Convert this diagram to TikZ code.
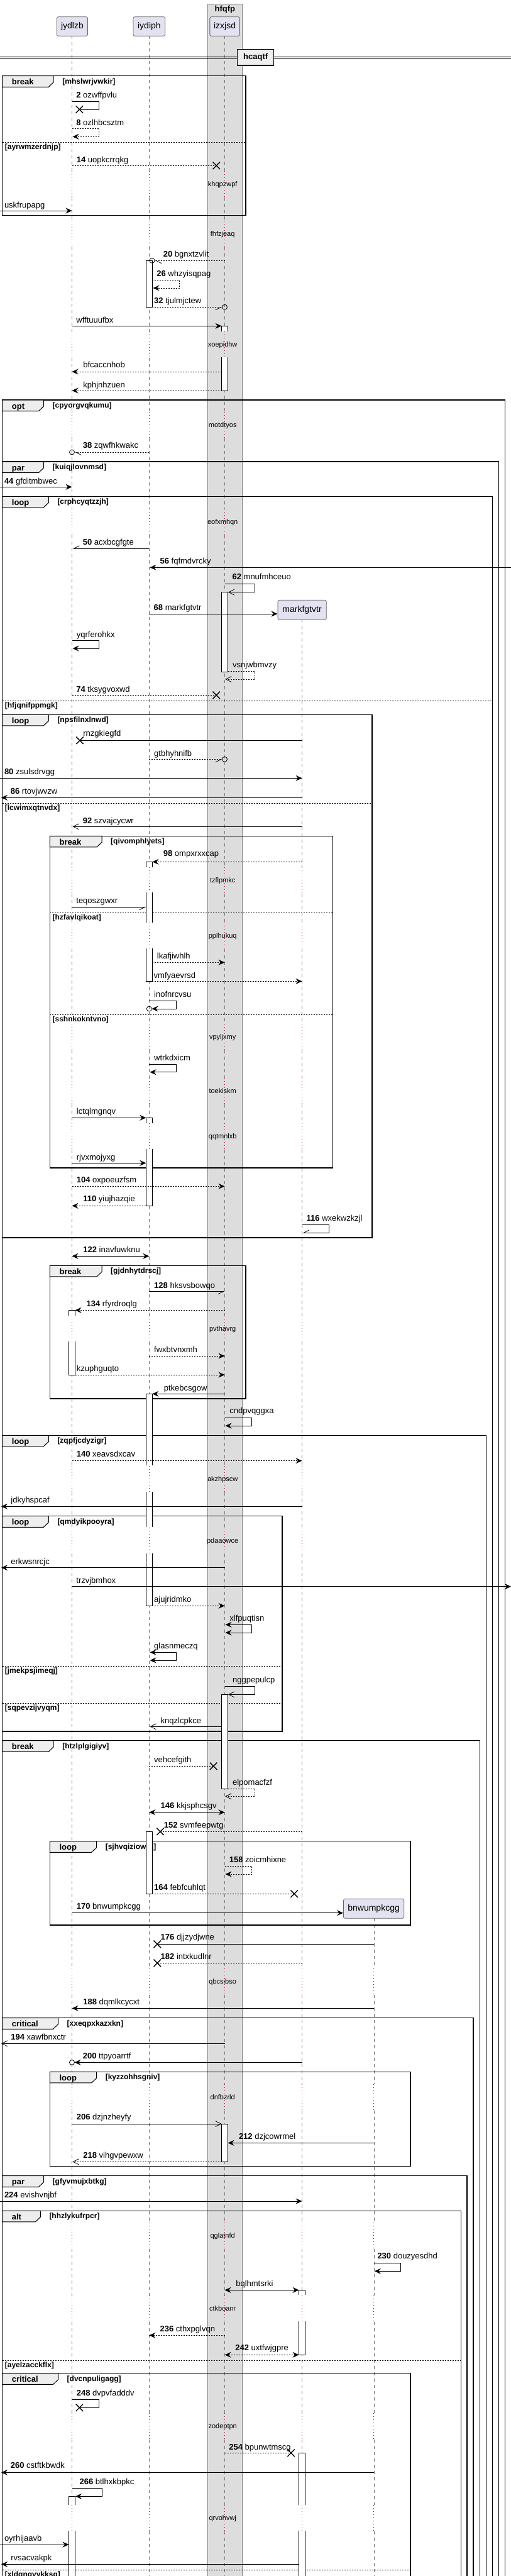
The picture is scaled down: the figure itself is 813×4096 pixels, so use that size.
\documentclass[tikz,border=0pt]{standalone}
\usepackage{fontspec}
\setmainfont{Liberation Sans}
\usetikzlibrary{arrows.meta,shapes.misc}

\definecolor{partfill}{HTML}{E2E2F0}
\definecolor{boxfill}{HTML}{DDDDDD}
\definecolor{tabfill}{HTML}{EEEEEE}
\definecolor{delayred}{HTML}{A80036}

% lifeline x positions
\def\xjy{114.5}
\def\xiy{237.3}
\def\xiz{357.5}
\def\xma{480.5}
\def\xbn{594.8}

\newcommand\msgline[5]{\coordinate (#1a) at (#3,#5);\coordinate (#1b) at (#4,#5);\draw[#2] (#1a) -- (#1b);}
\newcommand\msgself[7]{\coordinate (#1a) at (#3,#5);\coordinate (#1b) at (#7,#6);\draw[#2] (#1a) -- ++(#4,0) |- (#1b);}
\newcommand\msgtext[4]{\node[mtxt] (#1t) at (#2,#3) {#4};}
\newcommand\lostx[3]{\node[xmk] (#1) at (#2,#3) {};}
\newcommand\hollowdot[3]{\node[omk] (#1) at (#2,#3) {};}
\newcommand\seqframe[8]{%
  \draw[frm] (#2,#3) rectangle (#4,#5);
  \draw[frmtab] (#2,#3) -- (#6,#3) -- (#6,{#3+10}) -- ({#6-8},{#3+17.6}) -- (#2,{#3+17.6}) -- cycle;
  \node[flbl] (#1l) at ({#2+15},{#3+14.2}) {#7};
  \node[fgrd] (#1g) at ({#6+14},{#3+12.5}) {[#8]};}
\newcommand\seqelse[5]{\draw[frmsep] (#2,#4) -- (#3,#4);\node[fgrd] (#1) at ({#2+4},{#4+11}) {[#5]};}
\newcommand\actbar[3]{\draw[act] ({#1-5},#2) rectangle ({#1+5},#3);}
\newcommand\acttop[3]{\fill[white] ({#1-5},#2) rectangle ({#1+5},#3);\draw[actl] ({#1-5},#3) -- ({#1-5},#2) -- ({#1+5},#2) -- ({#1+5},#3);}
\newcommand\actmid[3]{\fill[white] ({#1-5},#2) rectangle ({#1+5},#3);\draw[actl] ({#1-5},#2) -- ({#1-5},#3) ({#1+5},#2) -- ({#1+5},#3);}
\newcommand\actbot[3]{\fill[white] ({#1-5},#2) rectangle ({#1+5},#3);\draw[actl] ({#1-5},#2) -- ({#1-5},#3) -- ({#1+5},#3) -- ({#1+5},#2);}

\def\segsA{57.3/272.3, 314.3/351.3, 393.3/527.3, 569.3/655, 697/809, 851/1379}
\def\segsC{1421/1467.3, 1509.3/1628.3, 1670.3/1714, 1756/1786.3, 1828.3/2092.3, 2134.3/2331.3, 2373.3/2429.3, 2471.3/3130}
\def\segsD{3172/3314, 3356/3534.3, 3576.3/3650, 3692/3837.3, 3879.3/3983.3, 4025.3/4110}
\def\zonesA{272.3/314.3, 351.3/393.3, 527.3/569.3, 655/697, 809/851}
\def\zonesC{1379/1421, 1467.3/1509.3, 1628.3/1670.3, 1714/1756, 1786.3/1828.3, 2092.3/2134.3, 2331.3/2373.3, 2429.3/2471.3}
\def\zonesD{3130/3172, 3314/3356, 3534.3/3576.3, 3650/3692, 3837.3/3879.3, 3983.3/4025.3}

\begin{document}
\begin{tikzpicture}[x=1pt, y=-1pt,
  life/.style={black!55, line width=0.6pt, dash pattern=on 5pt off 5pt},
  lifedly/.style={delayred, line width=0.8pt, dash pattern=on 1pt off 4pt},
  part/.style={draw=black!60, fill=partfill, rounded corners=2.5pt, line width=0.8pt, minimum height=30.6pt, inner sep=0pt, font=\fontsize{14}{16}\selectfont},
  msg/.style={line width=0.8pt},
  dsh/.style={line width=0.8pt, dash pattern=on 2pt off 2pt},
  fil/.style={-{Stealth[length=10pt,width=9pt,inset=3.5pt]}},
  bifil/.style={{Stealth[length=10pt,width=9pt,inset=3.5pt]}-{Stealth[length=10pt,width=9pt,inset=3.5pt]}},
  opn/.style={-{Straight Barb[length=9pt,width=9pt]}},
  hrp/.style={-{Straight Barb[length=9pt,width=9pt,harpoon]}},
  hrps/.style={-{Straight Barb[length=9pt,width=9pt,harpoon,swap]}},
  mtxt/.style={anchor=base west, inner sep=0pt, font=\fontsize{13}{15}\selectfont, yshift=-3.5pt},
  delay/.style={anchor=base, inner sep=0pt, font=\fontsize{11}{13}\selectfont, yshift=-3.5pt},
  xmk/.style={cross out, draw, line width=1.4pt, minimum size=10pt, inner sep=0pt},
  omk/.style={circle, draw, line width=0.8pt, minimum size=8pt, inner sep=0pt},
  frm/.style={line width=1.5pt},
  frmtab/.style={fill=tabfill, line width=1pt},
  frmsep/.style={line width=0.8pt, dash pattern=on 2pt off 2pt},
  flbl/.style={anchor=base west, inner sep=0pt, font=\bfseries\fontsize{13}{15}\selectfont},
  fgrd/.style={anchor=base west, inner sep=0pt, font=\bfseries\fontsize{12}{14}\selectfont},
  act/.style={fill=white, draw, line width=0.8pt},
  actl/.style={line width=0.8pt}]
\useasboundingbox[fill=white] (0,0) rectangle (813,4096);

% box and participants
\draw[fill=boxfill, draw=black!50, line width=0.6pt] (330.2,6) rectangle (385.6,4110);
\node[anchor=base, inner sep=0pt, font=\bfseries\fontsize{13}{15}\selectfont] (bx) at (357.9,18.5) {hfqfp};
\node[part, minimum width=49pt] (p1) at (114.9,42) {jydlzb};
\node[part, minimum width=50.8pt] (p2) at (237.4,42) {iydiph};
\node[part, minimum width=47.5pt] (p3) at (357.6,42) {izxjsd};

% lifelines
\foreach \a/\b in \segsA {\foreach \x in {\xjy,\xiy,\xiz} \draw[life] (\x,\a) -- (\x,\b);}
\foreach \a/\b in \segsC {\foreach \x in {\xjy,\xiy,\xiz,\xma} \draw[life] (\x,\a) -- (\x,\b);}
\foreach \a/\b in \segsD {\foreach \x in {\xjy,\xiy,\xiz,\xma,\xbn} \draw[life] (\x,\a) -- (\x,\b);}
\draw[life] (\xma,985.3) -- (\xma,1379);
\draw[life] (\xbn,3050.3) -- (\xbn,3130);
\foreach \a/\b in \zonesA {\foreach \x in {\xjy,\xiy,\xiz} \draw[lifedly] (\x,\a) -- (\x,\b);}
\foreach \a/\b in \zonesC {\foreach \x in {\xjy,\xiy,\xiz,\xma} \draw[lifedly] (\x,\a) -- (\x,\b);}
\foreach \a/\b in \zonesD {\foreach \x in {\xjy,\xiy,\xiz,\xma,\xbn} \draw[lifedly] (\x,\a) -- (\x,\b);}
\node[part, minimum width=77.3pt, minimum height=31pt] (p4) at (480.6,969.8) {markfgtvtr};
\node[part, minimum width=96.2pt, minimum height=31pt] (p5) at (594.6,3034.8) {bnwumpkcgg};

% divider
\draw[line width=0.9pt] (0,90) -- (813,90) (0,93.3) -- (813,93.3);
\node[draw, line width=1.5pt, fill=tabfill, minimum width=58pt, minimum height=25.7pt, inner sep=0pt, font=\bfseries\fontsize{13}{15}\selectfont] (dv) at (406.7,91.2) {hcaqtf};

% delays
\foreach \c/\t [count=\i] in {293.3/khqpzwpf, 372.3/fhfzjeaq, 548.3/xoepidhw, 676/motdtyos, 830/eofxmhqn, 1400/tzflpmkc, 1488.3/pplhukuq, 1649.3/vpyljxmy, 1735/toekiskm, 1807.3/qqtmnlxb, 2113.3/pvthavrg, 2352.3/akzhpscw, 2450.3/pdaaowce, 3151/qbcsibso, 3335/dnfbzrld, 3555.3/qglatnfd, 3671/ctkboanr, 3858.3/zodeptpn, 4004.3/qrvohvwj}
  \node[delay] (d\i) at (354.2,\c) {\t};

% frames
\seqframe{fa}{3.7}{120.7}{390.8}{342.7}{85.2}{break}{mhslwrjvwkir}
\seqelse{fa1}{3.7}{390.8}{226.3}{ayrwmzerdnjp}
\seqframe{fb}{3.7}{636}{803.6}{4110}{69.5}{opt}{cpyorgvqkumu}
\seqframe{fc}{3.7}{734}{793.6}{4110}{69.5}{par}{kuiqjlovnmsd}
\seqframe{fd}{3.7}{789.3}{783.7}{4110}{77.3}{loop}{crphcyqtzzjh}
\seqelse{fd1}{3.7}{783.7}{1114.3}{hfjqnifppmgk}
\seqframe{fe}{3.7}{1136.3}{592}{1968}{77.3}{loop}{npsfilnxlnwd}
\seqelse{fe1}{3.7}{592}{1277.3}{lcwimxqtnvdx}
\seqframe{ff}{79.4}{1329.3}{529.3}{1857}{162}{break}{qivomphlyets}
\seqelse{ff1}{79.4}{529.3}{1451}{hzfavlqikoat}
\seqelse{ff2}{79.4}{529.3}{1613.3}{sshnkokntvno}
\seqframe{fg}{79.4}{2012.3}{390.8}{2224}{162}{break}{gjdnhytdrscj}
\seqframe{fh}{3.7}{2282.3}{773.3}{4110}{77.3}{loop}{zqpfjcdyzigr}
\seqframe{fi}{3.7}{2410.7}{448.8}{2753}{77.3}{loop}{qmdyikpooyra}
\seqelse{fi1}{3.7}{448.8}{2649.3}{jmekpsjimeqj}
\seqelse{fi2}{3.7}{448.8}{2708.3}{sqpevzijvyqm}
\seqframe{fj}{3.7}{2767.7}{763.3}{4110}{85.2}{break}{htzlplgigiyv}
\seqframe{fk}{79.4}{2927.7}{653.1}{3061}{153.6}{loop}{sjhvqiziowrq}
\seqframe{fl}{3.7}{3208.7}{752.9}{4110}{92.5}{critical}{xxeqpxkazxkn}
\seqframe{fm}{79.4}{3294.3}{653.1}{3444.7}{153.6}{loop}{kyzzohhsgniv}
\seqframe{fn}{3.7}{3459.7}{743}{4110}{69.5}{par}{gfyvmujxbtkg}
\seqframe{fo}{3.7}{3515.3}{733.6}{4110}{64.3}{alt}{hhzlykufrpcr}
\seqelse{fo1}{3.7}{733.6}{3753.3}{ayelzacckflx}
\seqframe{fp}{3.7}{3773.7}{653.1}{4110}{92.5}{critical}{dvcnpuligagg}
\seqelse{fp1}{3.7}{653.1}{4086.3}{xldqngyykksq}

% activations
\actbar{\xiy}{414.3}{488.3}
\acttop{\xiz}{518.3}{526.7} \actbot{\xiz}{568.3}{621}
\actbar{\xiz}{941.7}{1068.3}
\acttop{\xiy}{1370.3}{1379} \actmid{\xiy}{1419.3}{1466.7} \actbot{\xiy}{1508}{1560.3}
\acttop{\xiy}{1777.3}{1785.7} \actbot{\xiy}{1827}{1917.3}
\acttop{\xjy}{2083.3}{2091.7} \actbot{\xjy}{2133.3}{2186}
\acttop{\xiy}{2216.3}{2330} \actmid{\xiy}{2372.3}{2428.3} \actbot{\xiy}{2470}{2553.3}
\actbar{\xiz}{2694.3}{2844}
\actbar{\xiy}{2912.3}{3011.3}
\actbar{\xiz}{3377}{3437.3}
\acttop{\xma}{3641.3}{3649.3} \actbot{\xma}{3691}{3744.3}
\acttop{\xma}{3900.3}{3982.7} \actmid{\xma}{4024}{4110}
\acttop{\xjy}{3969.3}{3982.7} \actmid{\xjy}{4024}{4110}

% messages
\msgtext{m2}{121.2}{151.7}{\textbf{2} ozwffpvlu}
\msgself{m2}{msg}{\xjy}{43.3}{161.7}{174}{126.4}
\lostx{m2x}{126.4}{174}
\msgtext{m8}{121.2}{195.7}{\textbf{8} ozlhbcsztm}
\msgself{m8}{dsh,fil}{\xjy}{43.3}{204.3}{217.3}{115.5}
\msgtext{m14}{121.7}{255}{\textbf{14} uopkcrrqkg}
\msgline{m14}{dsh}{\xjy}{344.3}{263.3}
\lostx{m14x}{344.3}{263.3}
\msgtext{m15}{6.8}{326.7}{uskfrupapg}
\msgline{m15}{msg,fil}{0}{\xjy}{335}
\msgtext{m20}{259.7}{405}{\textbf{20} bgnxtzvlit}
\msgline{m20}{dsh,hrp}{\xiz}{246.5}{414.3}
\hollowdot{m20o}{242}{414.3}
\msgtext{m26}{249.2}{435.7}{\textbf{26} whzyisqpag}
\msgself{m26}{dsh,fil}{242.3}{43.5}{445.3}{458}{243.5}
\msgtext{m32}{245}{479.3}{\textbf{32} tjulmjctew}
\msgline{m32}{dsh,hrps}{242.3}{353.5}{488.3}
\hollowdot{m32o}{\xiz}{488.3}
\msgtext{m33}{121.2}{510}{wfftuuufbx}
\msgline{m33}{msg,fil}{\xjy}{352.5}{518.3}
\msgtext{m34}{132.2}{581.3}{bfcaccnhob}
\msgline{m34}{dsh,fil}{352.5}{\xjy}{591}
\msgtext{m35}{132.2}{612.7}{kphjnhzuen}
\msgline{m35}{dsh,fil}{352.5}{\xjy}{621}
\msgtext{m38}{131.7}{709.3}{\textbf{38} zqwfhkwakc}
\msgline{m38}{dsh,hrp}{\xiy}{118.5}{719}
\hollowdot{m38o}{\xjy}{719}
\msgtext{m44}{6.8}{765.7}{\textbf{44} gfditmbwec}
\msgline{m44}{msg,fil}{0}{\xjy}{774.3}
\msgtext{m50}{131.7}{862.7}{\textbf{50} acxbcgfgte}
\msgline{m50}{msg,hrps}{\xiy}{115.5}{872.3}
\msgtext{m56}{254.4}{893.3}{\textbf{56} fqfmdvrcky}
\msgline{m56}{msg,fil}{813}{238.5}{902.3}
\msgtext{m62}{369.4}{918.3}{\textbf{62} mnufmhceuo}
\msgself{m62}{msg,opn}{\xiz}{47.9}{928.3}{941.7}{363}
\msgtext{m68}{244.5}{966.7}{\textbf{68} markfgtvtr}
\msgline{m68}{msg,fil}{\xiy}{441.5}{976}
\msgtext{m69}{121.7}{1010}{yqrferohkx}
\msgself{m69}{msg,fil}{\xjy}{43.3}{1018.7}{1031}{115.5}
\msgtext{m70}{369.9}{1057.7}{vsnjwbmvzy}
\msgself{m70}{dsh,opn}{362.5}{42.9}{1067.7}{1080}{358.3}
\msgtext{m74}{121.2}{1096.7}{\textbf{74} tksygvoxwd}
\msgline{m74}{dsh}{\xjy}{344.3}{1105.3}
\lostx{m74x}{344.3}{1105.3}
\msgtext{m75}{132.2}{1167}{rnzgkiegfd}
\msgline{m75}{msg}{\xma}{127}{1177.3}
\lostx{m75x}{127}{1177.3}
\msgtext{m76}{245}{1199}{gtbhyhnifb}
\msgline{m76}{dsh,hrps}{\xiy}{353.5}{1207.3}
\hollowdot{m76o}{\xiz}{1207.3}
\msgtext{m80}{6.8}{1228.3}{\textbf{80} zsulsdrvgg}
\msgline{m80}{msg,fil}{0}{\xma}{1237.3}
\msgtext{m86}{16.7}{1258.7}{\textbf{86} rtovjwvzw}
\msgline{m86}{msg,fil}{\xma}{2}{1268.3}
\msgtext{m92}{131.7}{1305.7}{\textbf{92} szvajcycwr}
\msgline{m92}{msg,opn}{\xma}{115.5}{1314.3}
\msgtext{m98}{259.7}{1358.3}{\textbf{98} ompxrxxcap}
\msgline{m98}{dsh,fil}{\xma}{242.5}{1370.3}
\msgtext{m99}{121.2}{1432.7}{teqoszgwxr}
\msgline{m99}{msg,hrps}{\xjy}{232.3}{1442.3}
\msgtext{m100}{249.7}{1521.3}{lkafjiwhlh}
\msgline{m100}{dsh,fil}{242.3}{\xiz}{1530.3}
\msgtext{m101}{244.5}{1551.7}{vmfyaevrsd}
\msgline{m101}{dsh,fil}{242.3}{\xma}{1560.3}
\msgtext{m102}{245}{1581.7}{inofnrcvsu}
\msgself{m102}{msg,fil}{\xiy}{43.3}{1591.3}{1604}{241.5}
\hollowdot{m102o}{\xiy}{1604}
\msgtext{m103}{245}{1682.7}{wtrkdxicm}
\msgself{m103}{msg,fil}{\xiy}{43.3}{1692.3}{1704.7}{238.5}
\msgtext{mlctq}{121.7}{1767.7}{lctqlmgnqv}
\msgline{mlctq}{msg,fil}{\xjy}{232.3}{1777.3}
\msgtext{mrjvx}{121.7}{1841}{rjvxmojyxg}
\msgline{mrjvx}{msg,fil}{\xjy}{232.3}{1849.3}
\msgtext{m104}{121.7}{1877.3}{\textbf{104} oxpoeuzfsm}
\msgline{m104}{dsh,fil}{\xjy}{\xiz}{1886.3}
\msgtext{m110}{132.2}{1907.3}{\textbf{110} yiujhazqie}
\msgline{m110}{dsh,fil}{232.3}{\xjy}{1917.3}
\msgtext{m116}{487.5}{1938.3}{\textbf{116} wxekwzkzjl}
\msgself{m116}{msg,hrps}{\xma}{42.5}{1947.3}{1960.3}{481.5}
\msgtext{m122}{132.2}{1988.3}{\textbf{122} inavfuwknu}
\msgline{m122}{msg,bifil}{\xjy}{\xiy}{1997.3}
\msgtext{m128}{245}{2044.7}{\textbf{128} hksvsbowqo}
\msgline{m128}{msg,hrps}{\xiy}{\xiz}{2053.3}
\msgtext{m134}{137.4}{2074.3}{\textbf{134} rfyrdroqlg}
\msgline{m134}{dsh,fil}{\xiz}{119.5}{2083.3}
\msgtext{mfwxb}{245}{2146.7}{fwxbtvnxmh}
\msgline{mfwxb}{dsh,fil}{\xiy}{\xiz}{2156}
\msgtext{mkzup}{121.7}{2177.3}{kzuphguqto}
\msgline{mkzup}{dsh,fil}{119.5}{\xiz}{2186}
\msgtext{mptke}{260.7}{2207.7}{ptkebcsgow}
\msgline{mptke}{msg,fil}{\xiz}{242.3}{2216.3}
\msgtext{mcndp}{365.2}{2244.3}{cndpvqggxa}
\msgself{mcndp}{msg,fil}{\xiz}{43.3}{2254.3}{2267}{358.5}
\msgtext{m140}{121.7}{2313.3}{\textbf{140} xeavsdxcav}
\msgline{m140}{dsh,fil}{\xjy}{\xma}{2322.7}
\msgtext{mjdky}{17.2}{2386}{jdkyhspcaf}
\msgline{mjdky}{msg,fil}{\xma}{2}{2395.3}
\msgtext{merkw}{17.2}{2483.7}{erkwsnrcjc}
\msgline{merkw}{msg,fil}{\xiz}{2}{2492.7}
\msgtext{mtrzv}{121.2}{2513.7}{trzvjbmhox}
\msgline{mtrzv}{msg,fil}{\xjy}{813}{2522.7}
\msgtext{majuj}{245}{2543.7}{ajujridmko}
\msgline{majuj}{dsh,fil}{242.3}{\xiz}{2553.3}
\msgtext{mxlfp}{365.2}{2574.3}{xlfpuqtisn}
\msgself{mxlfp}{msg,bifil}{358.5}{42.2}{2583.3}{2596}{358.5}
\msgtext{mglas}{245}{2618}{glasnmeczq}
\msgself{mglas}{msg,bifil}{238.5}{42.1}{2627.3}{2640}{238.5}
\msgtext{mnggp}{369.9}{2672}{nggpepulcp}
\msgself{mnggp}{msg,opn}{\xiz}{47.9}{2681.3}{2694.3}{363}
\msgtext{mknqz}{255.5}{2736.7}{knqzlcpkce}
\msgline{mknqz}{msg,opn}{352.5}{238.5}{2745.3}
\msgtext{mvehc}{245}{2798.7}{vehcefgith}
\msgline{mvehc}{dsh}{\xiy}{339.6}{2808.3}
\lostx{mvehcx}{339.6}{2808.3}
\msgtext{melpo}{369.9}{2835}{elpomacfzf}
\msgself{melpo}{dsh,opn}{362.5}{42.9}{2844}{2856.3}{358.3}
\msgtext{m146}{255.5}{2872.3}{\textbf{146} kkjsphcsgv}
\msgline{m146}{msg,bifil}{\xiy}{\xiz}{2881.7}
\msgtext{m152}{260.7}{2902.7}{\textbf{152} svmfeepwtg}
\msgline{m152}{dsh}{\xma}{255}{2912.3}
\lostx{m152x}{255}{2912.3}
\msgtext{m158}{364.7}{2958.3}{\textbf{158} zoicmhixne}
\msgself{m158}{dsh,fil}{\xiz}{43.3}{2967.3}{2980}{358.5}
\msgtext{m164}{245}{3001.7}{\textbf{164} febfcuhlqt}
\msgline{m164}{dsh}{242.3}{468.1}{3011.3}
\lostx{m164x}{468.1}{3011.3}
\msgtext{m170}{121.7}{3032.3}{\textbf{170} bnwumpkcgg}
\msgline{m170}{msg,fil}{\xjy}{546}{3041.7}
\msgtext{m176}{255.5}{3081}{\textbf{176} djjzydjwne}
\msgline{m176}{msg}{\xbn}{250.3}{3091.3}
\lostx{m176x}{250.3}{3091.3}
\msgtext{m182}{255.5}{3112.3}{\textbf{182} intxkudlnr}
\msgline{m182}{dsh}{\xma}{250.3}{3121.3}
\lostx{m182x}{250.3}{3121.3}
\msgtext{m188}{132.2}{3184.3}{\textbf{188} dqmlkcycxt}
\msgline{m188}{msg,fil}{\xbn}{\xjy}{3193.3}
\msgtext{m194}{17.2}{3240.3}{\textbf{194} xawfbnxctr}
\msgline{m194}{msg,opn}{\xiz}{2}{3249.3}
\msgtext{m200}{131.7}{3270.3}{\textbf{200} ttpyoarrtf}
\msgline{m200}{msg,fil}{\xma}{118.5}{3279.3}
\hollowdot{m200o}{\xjy}{3279.3}
\msgtext{m206}{121.7}{3367}{\textbf{206} dzjnzheyfy}
\msgline{m206}{msg,opn}{\xjy}{352.5}{3377}
\msgtext{m212}{379.8}{3397.7}{\textbf{212} dzjcowrmel}
\msgline{m212}{msg,fil}{\xbn}{362.5}{3407.3}
\msgtext{m218}{132.2}{3428.3}{\textbf{218} vihgvpewxw}
\msgline{m218}{dsh,opn}{352.5}{115.5}{3437.3}
\msgtext{m224}{6.8}{3491}{\textbf{224} evishvnjbf}
\msgline{m224}{msg,fil}{0}{\xma}{3500}
\msgtext{m230}{600.3}{3588.3}{\textbf{230} douzyesdhd}
\msgself{m230}{msg,fil}{\xbn}{42.6}{3598.7}{3611.3}{595.8}
\msgtext{mbqlh}{375.1}{3632.3}{bqlhmtsrki}
\msgline{mbqlh}{msg,bifil}{\xiz}{475.5}{3641.3}
\msgtext{m236}{254.4}{3704.3}{\textbf{236} cthxpglvqn}
\msgline{m236}{dsh,fil}{\xiz}{\xiy}{3713.3}
\msgtext{m242}{374.1}{3734.3}{\textbf{242} uxtfwjgpre}
\msgline{m242}{dsh,bifil}{\xiz}{475.5}{3744.3}
\msgtext{m248}{121.7}{3806.3}{\textbf{248} dvpvfadddv}
\msgself{m248}{msg}{\xjy}{43.3}{3815.3}{3828.3}{126.4}
\lostx{m248x}{126.4}{3828.3}
\msgtext{m254}{364.2}{3891.7}{\textbf{254} bpunwtmscg}
\msgline{m254}{dsh}{\xiz}{463}{3900.3}
\lostx{m254x}{463}{3900.3}
\msgtext{m260}{16.7}{3921.3}{\textbf{260} cstftkbwdk}
\msgline{m260}{msg,fil}{\xbn}{2}{3931.3}
\msgtext{m266}{126.4}{3947.3}{\textbf{266} btlhxkbpkc}
\msgself{m266}{msg,fil}{\xjy}{48}{3956.7}{3969.3}{120}
\msgtext{moyrh}{6.8}{4037.3}{oyrhijaavb}
\msgline{moyrh}{msg,fil}{0}{109.5}{4046}
\msgtext{mrvsa}{17.2}{4067.7}{rvsacvakpk}
\msgline{mrvsa}{msg,fil}{475.5}{2}{4077.3}
\end{tikzpicture}
\end{document}
